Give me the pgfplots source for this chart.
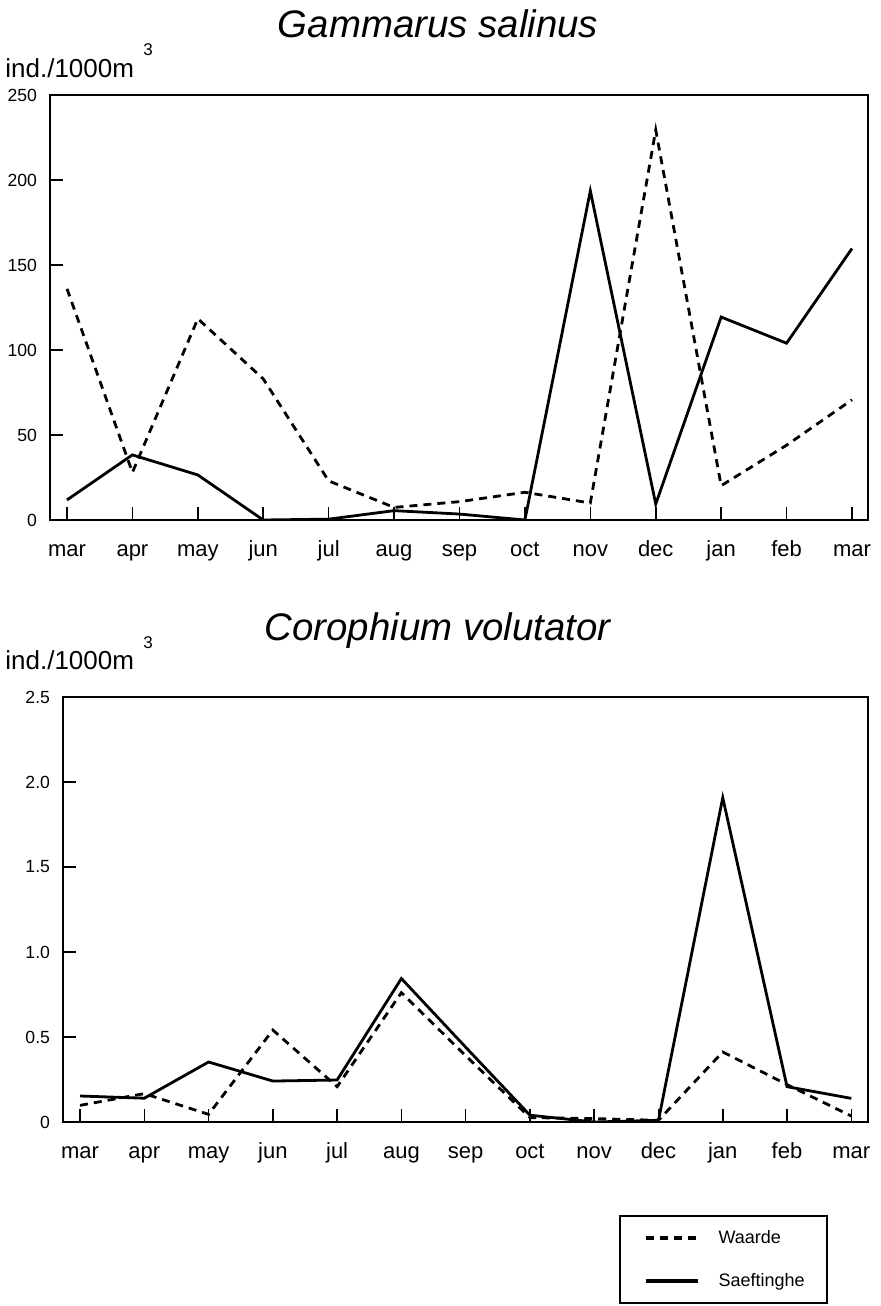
\documentclass[border=0pt]{standalone}
\usepackage{fontspec}
\setmainfont{Liberation Sans}
\usepackage{pgfplots}
\pgfplotsset{compat=1.18}

% month axis common to both panels
\pgfplotsset{
  monthaxis/.style={
    scale only axis,
    anchor=north west,
    height=212.5pt,
    axis line style={line width=0.8pt},
    xtick={0,1,...,12},
    xticklabels={mar,apr,may,jun,jul,aug,sep,oct,nov,dec,jan,feb,mar},
    xtick pos=bottom, ytick pos=left,
    tick align=inside,
    major tick length=6.5pt,
    tick style={line width=0.8pt, black},
    xticklabel style={font=\fontsize{11}{12}\selectfont, anchor=base, yshift=-18pt},
    yticklabel style={font=\fontsize{8.8}{10}\selectfont, xshift=-3pt},
    /pgf/number format/assume math mode=true,
    ymin=0,
  },
  waarde/.style={black, line width=1.4pt, dash pattern=on 4pt off 3pt},
  saeft/.style={black, line width=1.4pt, line join=miter},
}

\begin{document}
\begin{tikzpicture}
\useasboundingbox (0,0) rectangle (440.5pt,-653pt);

% Gammarus salinus
\begin{axis}[monthaxis,
  at={(25pt,-47.5pt)}, width=409pt,
  xmin=-0.26, xmax=12.245,
  ymax=250, ytick={0,50,...,250},
]
\addplot[waarde] coordinates {
  (0,136) (1,28) (2,118.4) (3,83) (4,23) (5,7.4) (6,10.8)
  (7,16.3) (8,10) (9,229.4) (10,20.2) (11,44) (12,70.7)};
\addplot[saeft] coordinates {
  (0,11.8) (1,38.3) (2,26.5) (3,0) (4,0.5) (5,5.5) (6,3.5)
  (7,0) (8,193.6) (9,9.4) (10,119.4) (11,104) (12,159.7)};
\end{axis}

% Corophium volutator
\begin{axis}[monthaxis,
  at={(31.5pt,-348.5pt)}, width=402.5pt,
  xmin=-0.265, xmax=12.26,
  ymax=2.5, ytick={0,0.5,...,2.5},
  yticklabels={0,0.5,1.0,1.5,2.0,2.5},
  legend style={at={(axis description cs:0.6907,-0.2193)}, anchor=north west,
    draw=black, line width=0.8pt, font=\fontsize{9}{10}\selectfont,
    inner xsep=6pt, inner ysep=5pt, row sep=9.5pt,
    nodes={inner xsep=5pt}},
  legend cell align=left,
  legend image code/.code={\path (0pt,0pt) (37pt,0pt);
    \draw[#1, line width=1.6pt] (6.5pt,0pt) -- (32.5pt,0pt);},
]
\addplot[waarde] coordinates {
  (0,0.098) (1,0.167) (2,0.045) (3,0.541) (4,0.208) (5,0.761) (6,0.39)
  (7,0.026) (8,0.02) (9,0.01) (10,0.412) (11,0.22) (12,0.035)};
\addlegendentry{Waarde}
\addplot[saeft] coordinates {
  (0,0.153) (1,0.14) (2,0.353) (3,0.241) (4,0.247) (5,0.844) (6,0.44)
  (7,0.04) (8,0.0) (9,0.01) (10,1.908) (11,0.208) (12,0.139)};
\addlegendentry{Saeftinghe}
\end{axis}

% titles and unit labels
\node[anchor=base, font=\fontsize{19.2}{23}\selectfont\itshape] at (219pt,-19pt) {Gammarus salinus};
\node[anchor=base, font=\fontsize{19.2}{23}\selectfont\itshape] at (218.75pt,-320pt) {Corophium volutator};
\node[anchor=base west, inner sep=0pt, font=\fontsize{13}{15}\selectfont] at (2.5pt,-38.5pt) {ind./1000m};
\node[anchor=base west, inner sep=0pt, font=\fontsize{8.5}{10}\selectfont] at (71.5pt,-27.5pt) {3};
\node[anchor=base west, inner sep=0pt, font=\fontsize{13}{15}\selectfont] at (2.5pt,-334.5pt) {ind./1000m};
\node[anchor=base west, inner sep=0pt, font=\fontsize{8.5}{10}\selectfont] at (71.5pt,-324pt) {3};
\end{tikzpicture}
\end{document}
